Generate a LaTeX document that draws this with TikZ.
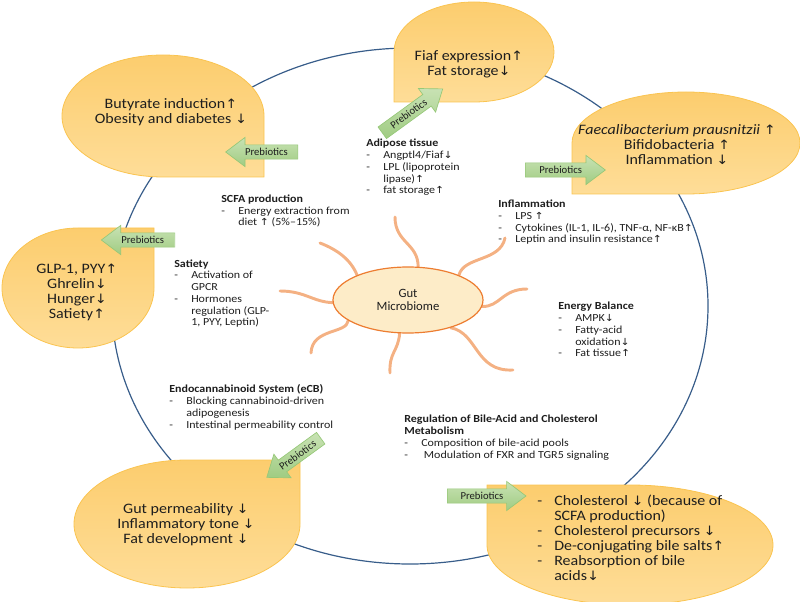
\documentclass[tikz,border=0pt]{standalone}
\usepackage{fontspec}
\setmainfont{Carlito}
\newfontfamily\arrowfont{DejaVu Sans}
\usetikzlibrary{backgrounds,shapes.geometric,shapes.arrows}
\definecolor{xring}{RGB}{56,93,138}
\definecolor{xblobtop}{RGB}{252,205,110}
\definecolor{xblobbot}{RGB}{254,221,152}
\definecolor{xblobline}{RGB}{250,196,80}
\definecolor{xgutfill}{RGB}{253,236,200}
\definecolor{xgutline}{RGB}{237,125,49}
\definecolor{xsquig}{RGB}{244,177,131}
\definecolor{xgreentop}{RGB}{200,226,180}
\definecolor{xgreenbot}{RGB}{160,204,130}
\definecolor{xgreenline}{RGB}{150,200,120}
\definecolor{xtext}{RGB}{30,30,30}
\newcommand{\upa}{{\arrowfont\scalebox{0.9}{↑}}}
\newcommand{\dna}{{\arrowfont\scalebox{0.9}{↓}}}
\newcommand{\itm}{\makebox[12.75pt][l]{-}}
\newcommand{\ind}{\hspace*{12.75pt}}

\begin{document}
\begin{tikzpicture}[x=0.75pt,y=-0.75pt]
\tikzset{ring/.style={draw=xring,line width=0.9pt}}
\tikzset{blob/.style={draw=xblobline,line width=0.6pt,top color=xblobtop,bottom color=xblobbot}}
\tikzset{blobtxt/.style={align=center,inner sep=0pt,text=xtext,font=\fontsize{12}{12.5}\selectfont,yscale=0.9,transform shape}}
\tikzset{info/.style={anchor=base west,align=left,inner sep=0pt,text=xtext,font=\fontsize{9}{9.8}\selectfont,yscale=0.9,transform shape}}
\tikzset{gut/.style={ellipse,draw=xgutline,line width=0.9pt,fill=xgutfill,minimum width=112.5pt,minimum height=49.5pt,inner sep=0pt,align=center,text=xtext,font=\fontsize{9.5}{9.8}\selectfont}}
\tikzset{squig/.style={draw=xsquig,line width=2.2pt,line cap=round}}
\tikzset{prebio/.style={single arrow,draw=xgreenline,line width=0.5pt,top color=xgreentop,bottom color=xgreenbot,font=\fontsize{8}{8}\selectfont,text=xtext,inner xsep=4pt,inner ysep=2.3pt,single arrow head extend=5.6pt,single arrow tip angle=74,anchor=tail}}
\useasboundingbox (0,0) rectangle (800,602);
\draw[ring] (410,306) ellipse [x radius=298, y radius=258];
\draw[blob] (264,177) -- (163,177) arc[start angle=90, end angle=360, x radius=101, y radius=61] -- cycle;
\draw[blob] (394,102) -- (394,52) arc[start angle=180, end angle=450, x radius=80, y radius=50] -- cycle;
\draw[blob] (572,194) -- (572,143) arc[start angle=180, end angle=450, x radius=114, y radius=51] -- cycle;
\draw[blob] (154,228) -- (154,288) arc[start angle=0, end angle=270, x radius=76, y radius=60] -- cycle;
\draw[blob] (300,460) -- (300,524) arc[start angle=0, end angle=270, x radius=113, y radius=64] -- cycle;
\draw[blob] (487,485) -- (630,485) arc[start angle=270, end angle=540, x radius=143, y radius=60] -- cycle;
\node[blobtxt] at (171,112) (butyrate) {Butyrate induction\upa\\Obesity and diabetes \dna};
\node[blobtxt] at (469,64) (fiaf) {Fiaf expression\upa\\Fat storage\dna};
\node[blobtxt] at (677,145) (faecali) {\textit{Faecalibacterium prausnitzii} \upa\\Bifidobacteria \upa\\Inflammation \dna};
\node[blobtxt] at (77,292) (glp) {GLP-1, PYY\upa\\Ghrelin\dna\\Hunger\dna\\Satiety\upa};
\node[blobtxt] at (186,525) (gutperm) {Gut permeability \dna\\Inflammatory tone \dna\\Fat development \dna};
\node[blobtxt,anchor=base west,align=left] at (537,580) (chol) {\itm Cholesterol \dna{} (because of\\
\ind SCFA production)\\
\itm Cholesterol precursors \dna\\
\itm De-conjugating bile salts\upa\\
\itm Reabsorption of bile\\
\ind acids\dna};
\node[gut] at (408,300) (gut) {Gut\\Microbiome};
\begin{scope}[on background layer]
\draw[squig] (gut.73) .. controls (418,243) and (395,243) .. (395,217);
\draw[squig] (gut.154) .. controls (351,260) and (338,250) .. (320,243);
\draw[squig] (gut.26) .. controls (464,256) and (500,262) .. (505,238);
\draw[squig] (gut.-5) .. controls (500,307) and (502,289) .. (527,289);
\draw[squig] (gut.-33) .. controls (478,333) and (475,372) .. (513,370);
\draw[squig] (gut.-104) .. controls (398,352) and (389,352) .. (390,373);
\draw[squig] (gut.199) .. controls (347,334) and (312,328) .. (311,353);
\draw[squig] (gut.182) .. controls (313,302) and (305,291) .. (280,291);
\end{scope}
\node[info] at (366,194) (adipose) {\textbf{Adipose tissue}\\
\itm Angptl4/Fiaf\dna\\
\itm LPL (lipoprotein\\
\ind lipase)\upa\\
\itm fat storage\upa};
\node[info] at (221,226) (scfa) {\textbf{SCFA production}\\
\itm Energy extraction from\\
\ind diet \upa{} (5\%–15\%)};
\node[info] at (498,243) (inflam) {\textbf{Inflammation}\\
\itm LPS \upa\\
\itm Cytokines (IL-1, IL-6), TNF-α, NF-κB\upa\\
\itm Leptin and insulin resistance\upa};
\node[info] at (174,326) (satiety) {\textbf{Satiety}\\
\itm Activation of\\
\ind GPCR\\
\itm Hormones\\
\ind regulation (GLP-\\
\ind 1, PYY, Leptin)};
\node[info] at (558,357) (energy) {\textbf{Energy Balance}\\
\itm AMPK\dna\\
\itm Fatty-acid\\
\ind oxidation\dna\\
\itm Fat tissue\upa};
\node[info] at (169,428) (ecb) {\textbf{Endocannabinoid System (eCB)}\\
\itm Blocking cannabinoid-driven\\
\ind adipogenesis\\
\itm Intestinal permeability control};
\node[info] at (404,458) (bile) {\textbf{Regulation of Bile-Acid and Cholesterol}\\
\textbf{Metabolism}\\
\itm Composition of bile-acid pools\\
\itm\ Modulation of FXR and TGR5 signaling};
\node[prebio,shape border rotate=180,minimum height=54pt] at (298,152) (pre1) {Prebiotics};
\node[prebio,rotate=36,minimum height=56pt] at (382,133) (pre2) {Prebiotics};
\node[prebio,minimum height=60pt] at (525,170) (pre3) {Prebiotics};
\node[prebio,shape border rotate=180,minimum height=55pt] at (175,240) (pre4) {Prebiotics};
\node[prebio,rotate=36,shape border rotate=180,minimum height=50pt] at (321,438) (pre5) {Prebiotics};
\node[prebio,minimum height=59pt] at (447,496) (pre6) {Prebiotics};
\end{tikzpicture}
\end{document}
